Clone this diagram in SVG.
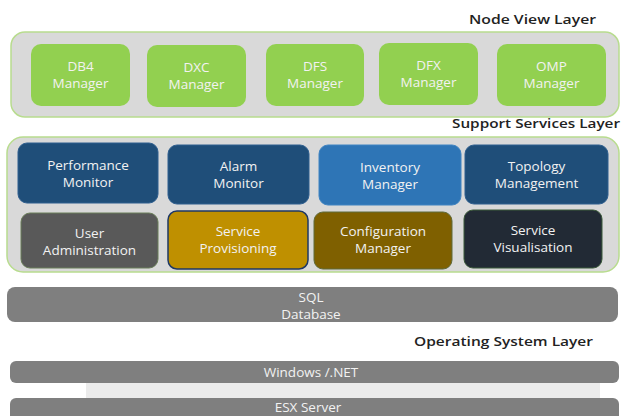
<svg xmlns="http://www.w3.org/2000/svg" width="622" height="416" viewBox="0 0 622 416">
<style>
  text { font-family: "Open Sans", "DejaVu Sans", sans-serif; }
  .lbl { font-size: 13px; font-weight: 600; fill: #222222; }
  .t { font-size: 13.5px; fill: #f2f2f2; text-anchor: middle; }
  .b { font-size: 13.5px; fill: #f2f2f2; text-anchor: middle; }
  .g { fill: #92d050; }
  .panel { fill: #d9d9d9; stroke: #b8dc8e; stroke-width: 1.5; }
  .bar { fill: #7f7f7f; }
</style>
<rect width="622" height="416" fill="#ffffff"/>

<text class="lbl" x="469" y="24" textLength="127" lengthAdjust="spacingAndGlyphs">Node View Layer</text>
<g id="node-view-layer">
  <rect class="panel" x="11" y="32" width="608" height="85" rx="14"/>
</g>
<g id="db4"><rect class="g" x="31" y="44" width="99" height="62" rx="10"/><text class="t" x="80.5" y="71">DB4</text><text class="t" x="80.5" y="88">Manager</text></g>
<g id="dxc"><rect class="g" x="147" y="45" width="99" height="62" rx="10"/><text class="t" x="196.5" y="72">DXC</text><text class="t" x="196.5" y="89">Manager</text></g>
<g id="dfs"><rect class="g" x="266" y="44" width="98" height="62" rx="10"/><text class="t" x="315" y="71">DFS</text><text class="t" x="315" y="88">Manager</text></g>
<g id="dfx"><rect class="g" x="379" y="43" width="99" height="62" rx="10"/><text class="t" x="428.5" y="70">DFX</text><text class="t" x="428.5" y="87">Manager</text></g>
<g id="omp"><rect class="g" x="497" y="44" width="109" height="62" rx="10"/><text class="t" x="551.5" y="71">OMP</text><text class="t" x="551.5" y="88">Manager</text></g>

<text class="lbl" x="452" y="128" textLength="168" lengthAdjust="spacingAndGlyphs">Support Services Layer</text>
<g id="support-services-layer">
  <rect class="panel" x="7" y="137" width="612" height="135" rx="16"/>
</g>
<g id="performance-monitor"><rect x="18" y="143" width="140" height="60" rx="9" fill="#1f4e79" stroke="#2f5f8f" stroke-width="1"/><text class="t" x="88" y="170">Performance</text><text class="t" x="88" y="187">Monitor</text></g>
<g id="alarm-monitor"><rect x="168" y="145" width="141" height="59" rx="9" fill="#1f4e79" stroke="#2f5f8f" stroke-width="1"/><text class="t" x="238.5" y="171">Alarm</text><text class="t" x="238.5" y="188">Monitor</text></g>
<g id="inventory-manager"><rect x="319" y="145" width="142" height="60" rx="9" fill="#2e75b6" stroke="#3f84c2" stroke-width="1"/><text class="t" x="390" y="172">Inventory</text><text class="t" x="390" y="189">Manager</text></g>
<g id="topology-management"><rect x="465" y="145" width="143" height="59" rx="9" fill="#1f4e79" stroke="#2f5f8f" stroke-width="1"/><text class="t" x="536.5" y="171">Topology</text><text class="t" x="536.5" y="188">Management</text></g>

<g id="user-administration"><rect x="21" y="213" width="137" height="55" rx="9" fill="#595959" stroke="#6b7f5a" stroke-width="1"/><text class="t" x="89.5" y="238">User</text><text class="t" x="89.5" y="255">Administration</text></g>
<g id="service-provisioning"><rect x="168" y="211" width="140" height="58" rx="9" fill="#bf9000" stroke="#1f3864" stroke-width="1.5"/><text class="t" x="238" y="236">Service</text><text class="t" x="238" y="253">Provisioning</text></g>
<g id="configuration-manager"><rect x="314" y="212" width="138" height="57" rx="9" fill="#7f6000" stroke="#5f6a3a" stroke-width="1"/><text class="t" x="383" y="236">Configuration</text><text class="t" x="383" y="253">Manager</text></g>
<g id="service-visualisation"><rect x="464" y="210" width="138" height="58" rx="9" fill="#222a35" stroke="#3b5a3a" stroke-width="1"/><text class="t" x="533" y="235">Service</text><text class="t" x="533" y="252">Visualisation</text></g>

<g id="sql-database"><rect class="bar" x="7" y="287" width="611" height="35" rx="8"/><text class="b" x="311" y="302">SQL</text><text class="b" x="311" y="319">Database</text></g>

<text class="lbl" x="414" y="346" textLength="179" lengthAdjust="spacingAndGlyphs">Operating System Layer</text>
<rect x="86" y="383" width="514" height="15" fill="#ebebeb"/>
<g id="windows-net"><rect class="bar" x="10" y="361" width="609" height="22" rx="6"/><text class="b" x="311" y="377">Windows /.NET</text></g>
<g id="esx-server"><rect class="bar" x="10" y="398" width="609" height="30" rx="6"/><text class="b" x="308" y="412" font-size="13">ESX Server</text></g>
<g id="connectors"></g>
</svg>
